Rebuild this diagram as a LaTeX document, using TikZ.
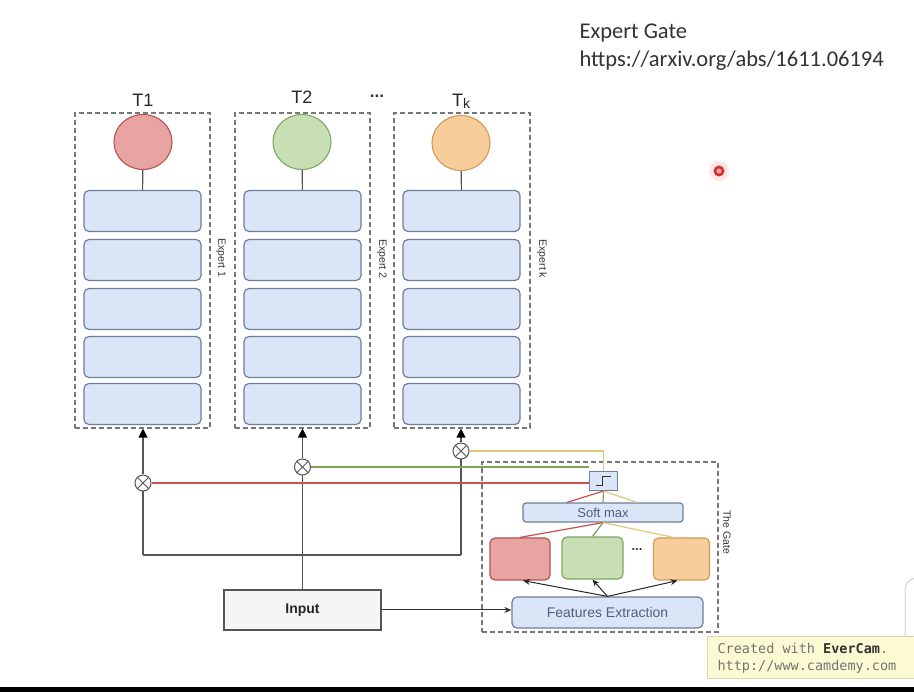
\documentclass[tikz,border=0pt]{standalone}
\usepackage{fontspec}
\setmainfont{Liberation Sans}
\newfontfamily\calibri{Carlito}
\newfontfamily\monof{DejaVu Sans Mono}
\usetikzlibrary{arrows.meta,calc,shapes.geometric}
\definecolor{layerfill}{HTML}{DAE6F7}
\definecolor{layerdraw}{HTML}{6F7F99}
\definecolor{boxdash}{HTML}{777777}
\definecolor{redfill}{HTML}{E8A3A3}
\definecolor{reddraw}{HTML}{B85450}
\definecolor{greenfill}{HTML}{C8DFB6}
\definecolor{greendraw}{HTML}{7FA862}
\definecolor{orangefill}{HTML}{F8CD9C}
\definecolor{orangedraw}{HTML}{D29A55}
\definecolor{redline}{HTML}{C8504F}
\definecolor{greenline}{HTML}{7DA35B}
\definecolor{yellowline}{HTML}{E6C57A}
\definecolor{conncol}{HTML}{555555}
\definecolor{softtext}{HTML}{4F5F7A}
\definecolor{wmfill}{HTML}{FBFAD2}
\definecolor{wmdraw}{HTML}{D8D8B0}
\begin{document}
\begin{tikzpicture}[x=1pt,y=-1pt,
  expbox/.style={draw=boxdash, dashed, dash pattern=on 5pt off 3pt, line width=1.1pt, inner sep=0pt},
  layer/.style={draw=layerdraw, fill=layerfill, rounded corners=5pt, line width=1.2pt, minimum width=117, minimum height=41, inner sep=0pt},
  task/.style={ellipse, line width=1.1pt, minimum width=58, minimum height=55, inner sep=0pt},
  tlabel/.style={font=\fontsize{18}{20}\selectfont, text=black!85},
  conn/.style={draw=conncol, line width=1.1pt},
  arr/.style={conn, -{Triangle[length=9pt,width=9pt,color=black]}},
  sarr/.style={draw=black!85, line width=1pt, -{Stealth[length=7pt,width=6pt]}},
  mult/.style={circle, draw=conncol, fill=white, line width=1pt, minimum size=16, inner sep=0pt},
  gbox/.style={rounded corners=5pt, line width=1.2pt, inner sep=0pt},
  rlab/.style={rotate=-90, font=\fontsize{10.5}{11}\selectfont, text=black!80},
]
\useasboundingbox (0,0) rectangle (914,692);
\fill[white] (0,0) rectangle (914,692);

% title text
\node[anchor=west, font=\calibri\fontsize{22.5}{26}\selectfont, text=black!80] (title) at (576,33) {Expert Gate};
\node[anchor=west, font=\calibri\fontsize{22.5}{26}\selectfont, text=black!80] (url) at (576,61) {https://arxiv.org/abs/1611.06194};

% laser dot
\fill[red!10] (719,171) circle (10);
\fill[red!75!black!80] (719,171) circle (5.5);
\fill[red!35] (719,171) circle (2.5);

% expert containers
\node[expbox, minimum width=135, minimum height=315] (ex1) at (142.5,270.5) {};
\node[expbox, minimum width=135, minimum height=315] (ex2) at (302.5,270.5) {};
\node[expbox, minimum width=136, minimum height=315] (exk) at (462,270.5) {};

\node[rlab] (lab1) at (221,258) {Expert 1};
\node[rlab] (lab2) at (382,259) {Expert 2};
\node[rlab] (labk) at (542,259) {Expert k};

% task labels
\node[tlabel] (t1) at (143,100) {T1};
\node[tlabel] (t2) at (302,97) {T2};
\node[tlabel] (tk) at (461,101) {T\raisebox{-2pt}{\fontsize{14}{14}\selectfont k}};
\node[font=\bfseries\fontsize{17}{17}\selectfont, text=black!80] (dots) at (377,96) {...};

% task circles
\node[task, fill=redfill, draw=reddraw] (c1) at (143,142) {};
\node[task, fill=greenfill, draw=greendraw] (c2) at (302,142) {};
\node[task, fill=orangefill, draw=orangedraw] (ck) at (461,143) {};

% layers
\foreach \i/\y in {1/211,2/260,3/309,4/357,5/404} {
  \node[layer] (r1-\i) at (142.5,\y) {};
  \node[layer] (r2-\i) at (302.5,\y) {};
  \node[layer] (rk-\i) at (461.5,\y) {};
}
\draw[conn] (c1) -- (r1-1);
\draw[conn] (c2) -- (r2-1);
\draw[conn] (ck) -- (rk-1);

% gate container
\node[expbox, minimum width=236, minimum height=170] (gate) at (600,547) {};
\node[rlab] (labg) at (727,532) {The Gate};

% multipliers
\node[mult] (m1) at (143,483) {};
\node[mult] (m2) at (302.5,467) {};
\node[mult] (mk) at (461,451) {};
\foreach \m in {m1,m2,mk} {
  \draw[conn, line width=0.9pt] (\m.45) -- (\m.225);
  \draw[conn, line width=0.9pt] (\m.135) -- (\m.315);
}

% input
\node[draw=conncol, fill=black!4, line width=1.1pt, minimum width=157, minimum height=40, inner sep=0pt,
      font=\bfseries\fontsize{14}{16}\selectfont, text=black!85] (in) at (302.5,610) {Input};

\coordinate (j1) at (143,555);
\coordinate (jk) at (461,555);
\draw[conn] (j1) -- (jk);
\draw[conn] (j1) -- (m1);
\draw[conn] (jk) -- (mk);
\draw[conn] (in.north) -- (m2);
\draw[arr] (m1) -- (m1 |- ex1.south);
\draw[arr] (m2) -- (m2 |- ex2.south);
\draw[arr] (mk) -- (mk |- exk.south);

% gate internals
\node[draw=layerdraw, fill=layerfill, line width=1.1pt, minimum width=28, minimum height=19, inner sep=0pt] (sb) at (603.5,481) {};
\draw[black!80, line width=1pt] ($(sb.center)+(-8,5)$) -- ++(7,0) -- ++(0,-9) -- ++(8,0);

\node[gbox, draw=layerdraw, fill=layerfill, rounded corners=3pt, minimum width=160, minimum height=19,
      font=\fontsize{13}{14}\selectfont, text=softtext] (sm) at (603,512.5) {Soft max};

\node[gbox, draw=reddraw, fill=redfill, minimum width=60, minimum height=42] (g1) at (520,559) {};
\node[gbox, draw=greendraw, fill=greenfill, minimum width=61, minimum height=42] (g2) at (592.5,558) {};
\node[gbox, draw=orangedraw, fill=orangefill, minimum width=56, minimum height=42] (g3) at (681.5,559) {};
\node[font=\bfseries\fontsize{13}{13}\selectfont, text=black!80] (gdots) at (637,550) {...};

\node[gbox, draw=layerdraw, fill=layerfill, minimum width=191, minimum height=31,
      font=\fontsize{14}{16}\selectfont, text=softtext] (fe) at (607.5,612.5) {Features Extraction};

% coloured gating lines
\draw[redline, line width=1.2pt] (m1.east) -- (sb.west |- m1);
\draw[greenline, line width=1.2pt] (m2.east) -- (sb.west |- m2);
\draw[yellowline, line width=1.2pt] (mk.east) -| (sb.north);

\draw[redline, line width=1.2pt] (sb.south) -- ($(sm.north)+(-36,0)$);
\draw[greenline, line width=1.2pt] (sb.south) -- (sm.north);
\draw[yellowline, line width=1.2pt] (sb.south) -- ($(sm.north)+(34,0)$);

\draw[redline, line width=1.2pt] (sm.south) -- (g1.north);
\draw[greenline, line width=1.2pt] (sm.south) -- (g2.north);
\draw[yellowline, line width=1.2pt] (sm.south) -- ($(g3.north)+(-8,0)$);

\draw[sarr] (fe.north) -- ($(g1.south)+(3,0)$);
\draw[sarr] (fe.north) -- (g2.south);
\draw[sarr] (fe.north) -- ($(g3.south)+(-4,0)$);

\draw[sarr, draw=black!80] (in.east) -- (fe.west |- in.east);

% watermark
\draw[gray!35, line width=1pt, rounded corners=12pt] (905,578) rectangle (960,650);
\node[draw=wmdraw, fill=wmfill, line width=1pt, minimum width=207, minimum height=41, inner sep=0pt] (wm) at (810.5,657.5) {};
\node[anchor=west, font=\monof\fontsize{13.5}{14}\selectfont, text=black!55] (wm1) at (714,648) {Created with \textbf{\color{black!80}EverCam}.};
\node[anchor=west, font=\monof\fontsize{13.5}{14}\selectfont, text=black!55] (wm2) at (714,667) {http://www.camdemy.com};

% bottom band
\fill[black] (0,687) rectangle (914,692);
\end{tikzpicture}
\end{document}
